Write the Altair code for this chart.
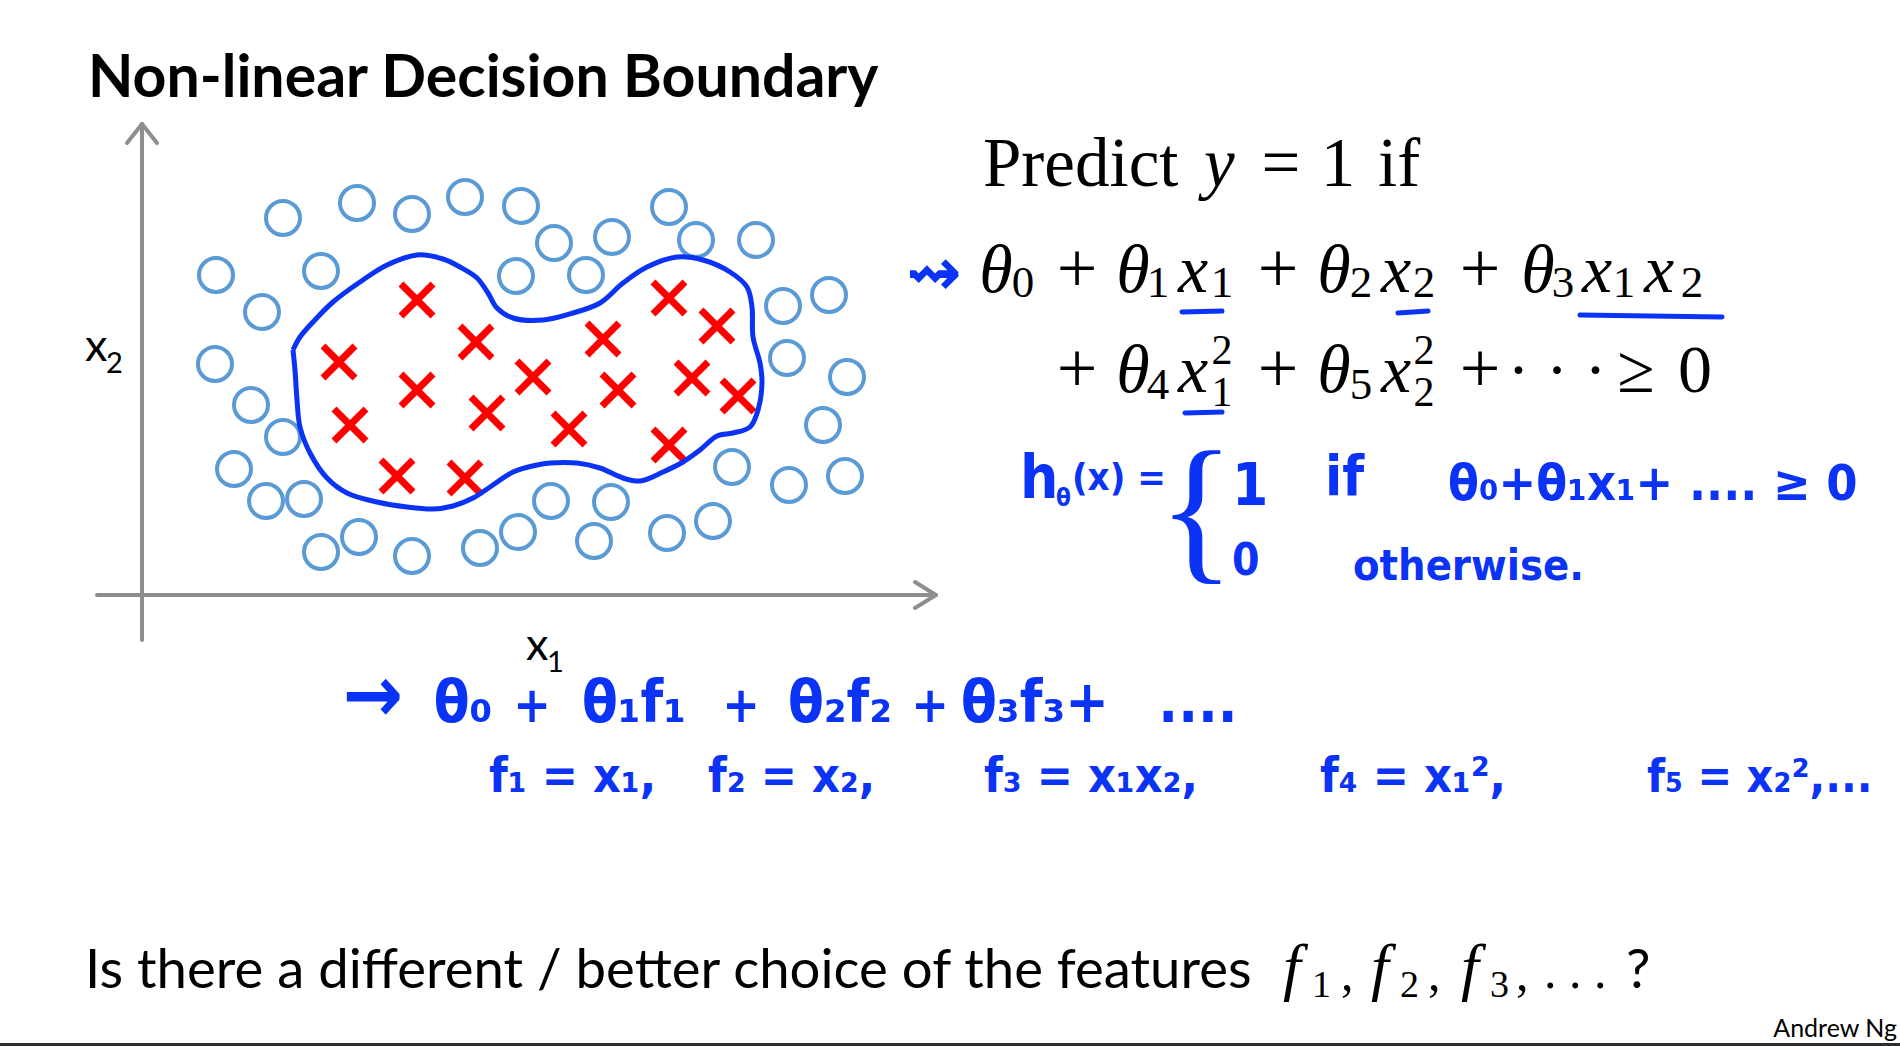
import altair as alt
import pandas as pd

# ---------------- data (units: px from the axis origin) ----------------
circle_x1 = [141, 215, 270, 323, 379, 74, 179, 120, 73, 109, 141, 92, 124, 162, 179, 217, 270, 338, 376, 374,
             412, 409, 470, 527, 554, 614, 444, 641, 687, 645, 705, 681, 590, 647, 703, 469, 452, 525, 571]
circle_x2 = [377, 392, 381, 398, 389, 320, 324, 283, 231, 190, 158, 126, 94, 96, 43, 58, 39, 47, 63, 319,
             352, 94, 358, 388, 355, 355, 320, 289, 300, 237, 218, 170, 128, 110, 119, 93, 54, 62, 74]

cross_x1 = [275, 334, 197, 275, 391, 345, 208, 255, 323, 527, 575, 461, 476, 550, 596, 427, 527]
cross_x2 = [295, 253, 233, 205, 218, 182, 170, 119, 117, 297, 269, 256, 205, 217, 199, 166, 150]

boundary_x1 = [151, 158, 171, 191, 218, 245, 275, 301, 318, 335, 346, 355, 371, 401, 431, 458, 481, 505, 535,
               561, 588, 605, 610, 611, 618, 620, 616, 608, 591, 575, 558, 541, 521, 498, 481, 458, 435, 408,
               395, 371, 348, 331, 311, 291, 265, 235, 205, 185, 168, 158, 155, 153, 151]
boundary_x2 = [245, 258, 273, 293, 313, 330, 340, 336, 328, 317, 302, 287, 277, 275, 282, 292, 312, 328, 338,
               335, 323, 308, 288, 258, 232, 212, 185, 168, 162, 159, 145, 133, 123, 114, 117, 127, 132, 132,
               130, 123, 108, 97, 89, 86, 88, 93, 102, 117, 142, 168, 195, 225, 245]

# axis arrows (start/end in the same units)
axis_x1 = [0, -15, 15, -45, 773, 773]
axis_x2 = [-45, 452, 452, 0, 13, -13]
axis_x1e = [0, 0, 0, 794, 794, 794]
axis_x2e = [471, 471, 471, 0, 0, 0]

W, H = 1900, 1046
XS = alt.Scale(domain=[-142, W - 142], nice=False, zero=False)
YS = alt.Scale(domain=[595 - H, 595], nice=False, zero=False)

SANS = "Lato"
SERIF = "Liberation Serif, DejaVu Serif"
HAND = "Liberation Sans Narrow, DejaVu Sans Condensed, DejaVu Sans"
BLUE = "#0A33F5"
CIRC = "#5B9BD5"

one = pd.DataFrame({"k": [0]})


def txt(s, x, y, size, font=SANS, color="#000000", weight="normal", style="normal",
        align="left", baseline="alphabetic"):
    return alt.Chart(pd.DataFrame({"t": [s]})).mark_text(
        align=align, baseline=baseline, font=font, fontSize=size,
        fontWeight=weight, fontStyle=style, color=color
    ).encode(x=alt.value(x), y=alt.value(y), text="t:N")


def seg(x, y, xe, ye, color, w):
    return alt.Chart(one).mark_rule(color=color, strokeWidth=w, strokeCap="round").encode(
        x=alt.value(x), y=alt.value(y), x2=alt.value(xe), y2=alt.value(ye))


layers = []

# axes
axes_df = pd.DataFrame({"x1": axis_x1, "x2": axis_x2, "x1e": axis_x1e, "x2e": axis_x2e})
layers.append(alt.Chart(axes_df).mark_rule(color="#8E8E8E", strokeWidth=4, strokeCap="round").encode(
    x=alt.X("x1:Q", scale=XS, axis=None), y=alt.Y("x2:Q", scale=YS, axis=None),
    x2="x1e:Q", y2="x2e:Q"))

# circles
layers.append(alt.Chart(pd.DataFrame({"x1": circle_x1, "x2": circle_x2})).mark_point(
    shape="circle", filled=False, size=1156, strokeWidth=4, color=CIRC, opacity=1).encode(
    x=alt.X("x1:Q", scale=XS, axis=None), y=alt.Y("x2:Q", scale=YS, axis=None)))

# crosses
layers.append(alt.Chart(pd.DataFrame({"x1": cross_x1, "x2": cross_x2})).mark_point(
    shape="M-1,-1L1,1M-1,1L1,-1", filled=False, size=1024, strokeWidth=7, color="#FF0000",
    opacity=1).encode(
    x=alt.X("x1:Q", scale=XS, axis=None), y=alt.Y("x2:Q", scale=YS, axis=None)))

# decision boundary
bdf = pd.DataFrame({"x1": boundary_x1, "x2": boundary_x2, "o": list(range(len(boundary_x1)))})
layers.append(alt.Chart(bdf).mark_line(color=BLUE, strokeWidth=5, interpolate="catmull-rom",
                                       strokeJoin="round").encode(
    x=alt.X("x1:Q", scale=XS, axis=None), y=alt.Y("x2:Q", scale=YS, axis=None), order="o:Q"))

# title and axis labels
layers.append(txt("Non-linear Decision Boundary", 88, 97, 59, weight="bold"))
layers.append(txt("x", 85, 361, 45))
layers.append(txt("2", 106, 373, 29))
layers.append(txt("x", 526, 660, 45))
layers.append(txt("1", 547, 672, 29))

# typeset formula
layers.append(txt("Predict", 983, 186, 69, font=SERIF))
layers.append(txt("y", 1204, 186, 69, font=SERIF, style="italic"))
layers.append(txt("=", 1281, 186, 69, font=SERIF, align="center"))
layers.append(txt("1", 1338, 186, 69, font=SERIF, align="center"))
layers.append(txt("if", 1378, 186, 69, font=SERIF))

B1, S1 = 292, 297
line1 = [("θ", 996, B1, 68, "italic"), ("0", 1023, S1, 45, "normal"),
         ("+", 1077, B1, 72, "normal"),
         ("θ", 1133, B1, 68, "italic"), ("1", 1158, S1, 45, "normal"),
         ("x", 1193, B1, 68, "italic"), ("1", 1222, S1, 45, "normal"),
         ("+", 1278, B1, 72, "normal"),
         ("θ", 1334, B1, 68, "italic"), ("2", 1361, S1, 45, "normal"),
         ("x", 1396, B1, 68, "italic"), ("2", 1424, S1, 45, "normal"),
         ("+", 1480, B1, 72, "normal"),
         ("θ", 1538, B1, 68, "italic"), ("3", 1563, S1, 45, "normal"),
         ("x", 1597, B1, 68, "italic"), ("1", 1624, S1, 45, "normal"),
         ("x", 1659, B1, 68, "italic"), ("2", 1692, S1, 45, "normal")]
B2 = 392
line2 = [("+", 1077, B2, 72, "normal"),
         ("θ", 1133, B2, 68, "italic"), ("4", 1158, 399, 45, "normal"),
         ("x", 1193, B2, 68, "italic"), ("2", 1222, 364, 42, "normal"), ("1", 1222, 406, 42, "normal"),
         ("+", 1278, B2, 72, "normal"),
         ("θ", 1334, B2, 68, "italic"), ("5", 1361, 399, 45, "normal"),
         ("x", 1396, B2, 68, "italic"), ("2", 1424, 364, 42, "normal"), ("2", 1424, 406, 42, "normal"),
         ("+", 1480, B2, 72, "normal"),
         ("· · ·", 1557, B2, 66, "normal"),
         ("≥", 1636, B2, 68, "normal"),
         ("0", 1695, B2, 68, "normal")]
for s, x, y, size, style in line1 + line2:
    layers.append(txt(s, x, y, size, font=SERIF, style=style, align="center"))

# handwritten annotations
layers.append(txt("⇝", 934, 295, 66, font="DejaVu Sans", color=BLUE, weight="bold", align="center"))
layers.append(seg(1182, 312, 1222, 311, BLUE, 5))
layers.append(seg(1398, 313, 1428, 311, BLUE, 5))
layers.append(seg(1580, 315, 1722, 317, BLUE, 5))
layers.append(seg(1185, 413, 1222, 412, BLUE, 5))

layers.append(txt("h", 1020, 498, 60, font=HAND, color=BLUE, weight="bold"))
layers.append(txt("θ", 1056, 506, 24, font=HAND, color=BLUE, weight="bold"))
layers.append(txt("(x) =", 1072, 490, 38, font=HAND, color=BLUE, weight="bold"))
layers.append(txt("{", 1158, 562, 160, font="Liberation Serif", color=BLUE))
layers.append(txt("1", 1232, 505, 58, font=HAND, color=BLUE, weight="bold"))
layers.append(txt("if", 1325, 495, 56, font=HAND, color=BLUE, weight="bold"))
layers.append(txt("θ₀+θ₁x₁+ .... ≥ 0", 1448, 500, 50, font=HAND, color=BLUE, weight="bold"))
layers.append(txt("0", 1232, 575, 44, font=HAND, color=BLUE, weight="bold"))
layers.append(txt("otherwise.", 1353, 580, 43, font=HAND, color=BLUE, weight="bold"))

# handwritten feature lines, piece by piece at their places in the picture
hand1 = [("→", 373, 80), ("θ₀", 463, 58), ("+", 532, 50), ("θ₁f₁", 634, 58), ("+", 741, 50),
         ("θ₂f₂", 840, 58), ("+", 930, 50), ("θ₃f₃+", 1035, 58), ("....", 1198, 58)]
for s, x, size in hand1:
    layers.append(txt(s, x, 722, size, font=HAND, color=BLUE, weight="bold", align="center"))
hand2 = [("f₁ = x₁,", 489, 48), ("f₂ = x₂,", 708, 48), ("f₃ = x₁x₂,", 984, 48),
         ("f₄ = x₁²,", 1320, 48), ("f₅ = x₂²,...", 1647, 46)]
for s, x, size in hand2:
    layers.append(txt(s, x, 792, size, font=HAND, color=BLUE, weight="bold"))

# bottom question
layers.append(txt("Is there a different / better choice of the features", 85, 988, 54.5))
for s, x in [("f", 1283), ("f", 1371), ("f", 1461)]:
    layers.append(txt(s, x, 988, 64, font=SERIF, style="italic"))
for s, x in [("1", 1312), ("2", 1400), ("3", 1490)]:
    layers.append(txt(s, x, 997, 38, font=SERIF))
for x in [1341, 1428, 1516]:
    layers.append(txt(",", x, 990, 50, font=SERIF))
layers.append(txt(". . .", 1544, 988, 50, font=SERIF))
layers.append(txt("?", 1626, 988, 54.5))

layers.append(txt("Andrew Ng", 1897, 1037, 25, align="right"))
layers.append(seg(0, 1045, W, 1045, "#2E2E2E", 4))

chart = alt.layer(*layers).properties(
    width=W, height=H, padding=0, background="white",
    autosize=alt.AutoSizeParams(type="none")
).configure_view(strokeWidth=0)

chart.save("out.html", embed_options={"renderer": "svg", "actions": False})
